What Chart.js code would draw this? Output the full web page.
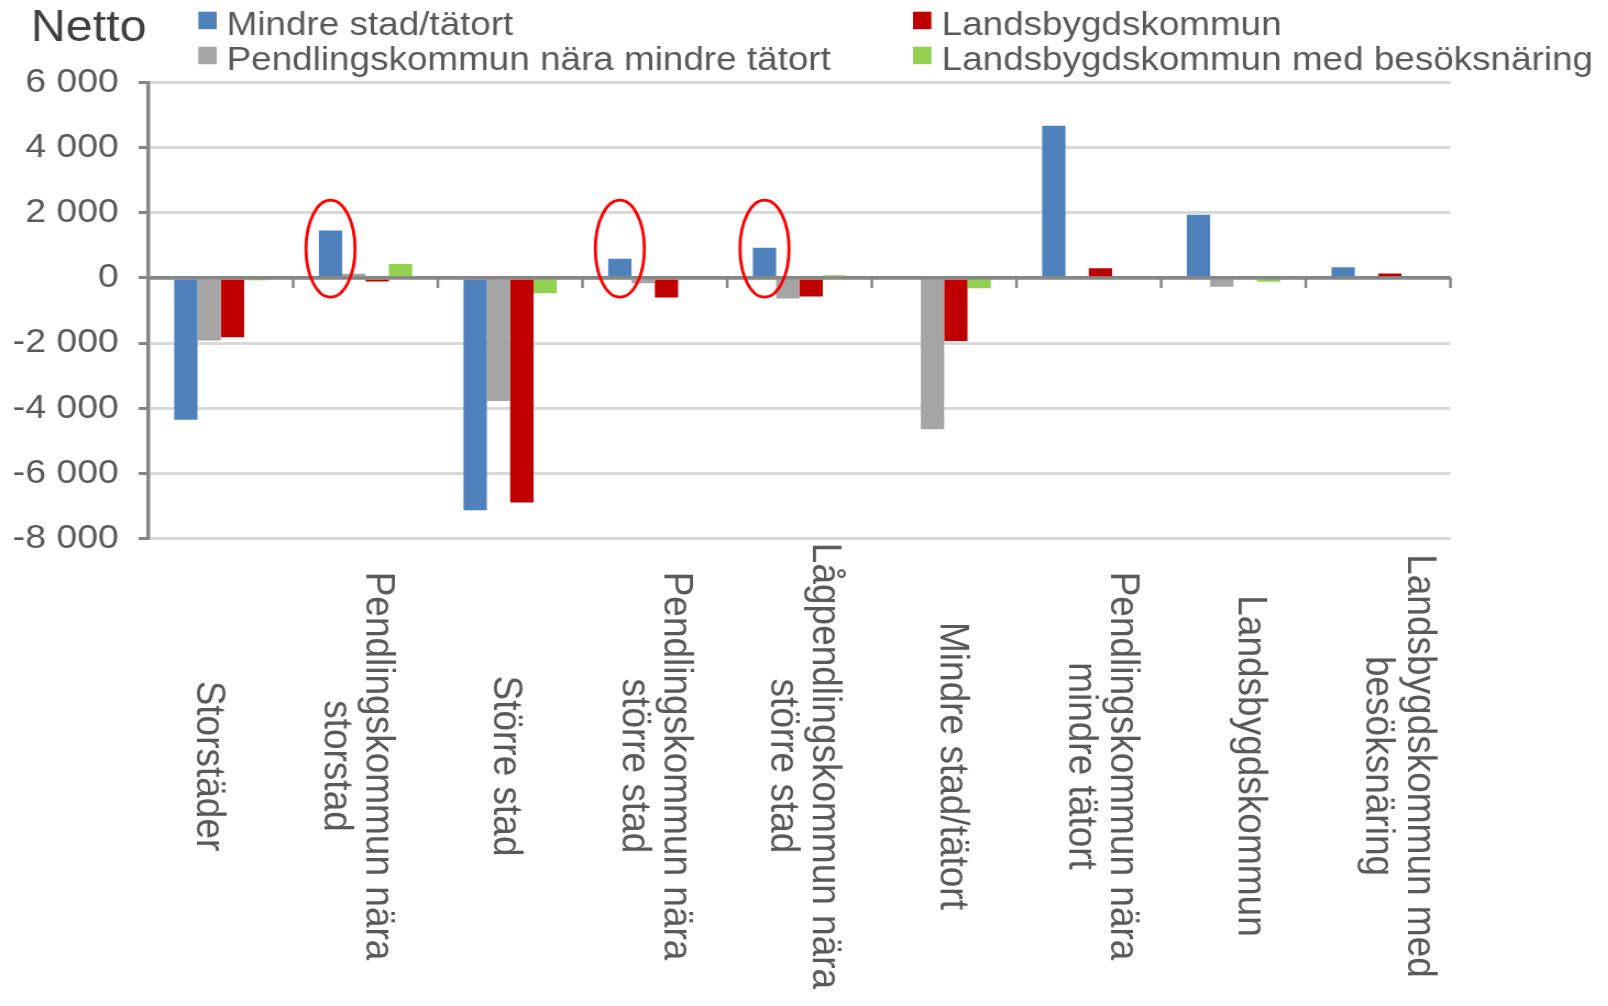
<!DOCTYPE html>
<html lang="sv">
<head>
<meta charset="utf-8">
<title>Netto</title>
<script src="https://cdn.jsdelivr.net/npm/chart.js@4.4.1/dist/chart.umd.min.js"></script>
<style>
  html, body { margin: 0; padding: 0; background: #fff; overflow: hidden; }
  #wrap { width: 1608px; height: 1006px; overflow: hidden; }
  /* the original picture is a little wider than tall text would suggest */
  #chart { transform: scaleX(1.1); transform-origin: 0 0; }
</style>
</head>
<body>
<div id="wrap"><canvas id="chart" width="1462" height="1006"></canvas></div>
<script>
const categories = [
  ["Storstäder"],
  ["Pendlingskommun nära", "storstad"],
  ["Större stad"],
  ["Pendlingskommun nära", "större stad"],
  ["Lågpendlingskommun nära", "större stad"],
  ["Mindre stad/tätort"],
  ["Pendlingskommun nära", "mindre tätort"],
  ["Landsbygdskommun"],
  ["Landsbygdskommun med", "besöksnäring"]
];

const seriesNames = [
  "Mindre stad/tätort",
  "Pendlingskommun nära mindre tätort",
  "Landsbygdskommun",
  "Landsbygdskommun med besöksnäring"
];
const seriesColors = ["#4f81bd", "#a5a5a5", "#c00000", "#92d050"];

const mindreStad     = [-4360, 1460, -7140,  590,  930,     0, 4680, 1940, 330];
const pendlingMindre = [-1920,  130, -3780, -160, -630, -4650,    0, -270,   0];
const landsbygd      = [-1820, -110, -6900, -600, -570, -1940,  300,    0, 140];
const landsbygdBesok = [  -70,  430,  -470,    0,   80,  -320,    0, -120,   0];

const yTicks = [-8000, -6000, -4000, -2000, 0, 2000, 4000, 6000];
const circledCategories = [1, 3, 4];   // red rings round the blue bars

const FONT = "'Liberation Sans', Arial, sans-serif";

function fmt(v) {
  return (v < 0 ? "-" : "") + String(Math.abs(v)).replace(/\B(?=(\d{3})+(?!\d))/g, " ");
}

const decorations = {
  id: "decorations",
  afterDatasetsDraw(chart) {
    const { ctx, chartArea, scales: { x, y } } = chart;
    const zero = y.getPixelForValue(0);
    const step = (x.right - x.left) / categories.length;

    ctx.save();
    // category axis at zero, with tick marks between groups
    ctx.strokeStyle = "#868686";
    ctx.lineWidth = 3.5;
    ctx.beginPath();
    ctx.moveTo(chartArea.left, zero);
    ctx.lineTo(chartArea.right, zero);
    ctx.stroke();
    ctx.lineWidth = 2.5;
    for (let i = 1; i <= categories.length; i++) {
      const px = x.left + step * i;
      ctx.beginPath();
      ctx.moveTo(px, zero);
      ctx.lineTo(px, zero + 10);
      ctx.stroke();
    }

    // red rings
    const bars = chart.getDatasetMeta(0).data;
    ctx.strokeStyle = "#ff0000";
    ctx.lineWidth = 2.8;
    circledCategories.forEach(i => {
      ctx.beginPath();
      ctx.ellipse(bars[i].x, y.getPixelForValue(900), 22.3, 48.5, 0, 0, Math.PI * 2);
      ctx.stroke();
    });
    ctx.restore();
  },
  afterDraw(chart) {
    const { ctx, scales: { x } } = chart;
    ctx.save();

    // rotated category labels (read top to bottom)
    ctx.fillStyle = "#595959";
    ctx.font = `37px ${FONT}`;
    ctx.textAlign = "center";
    ctx.textBaseline = "middle";
    categories.forEach((lines, i) => {
      const cx = x.getPixelForValue(i) + (i - 4) * 3.8 + 3.4;
      ctx.save();
      ctx.translate(cx, 766);
      ctx.rotate(Math.PI / 2);
      lines.forEach((line, j) => {
        ctx.fillText(line, 0, (j - (lines.length - 1) / 2) * 38);
      });
      ctx.restore();
    });

    // title
    ctx.textAlign = "left";
    ctx.textBaseline = "alphabetic";
    ctx.fillStyle = "#404040";
    ctx.font = `44px ${FONT}`;
    ctx.fillText("Netto", 28, 41);

    // legend, two columns
    const colBox = [180.3, 830];
    const colText = [206, 856];
    const rowBase = [35, 70];
    ctx.font = `33.5px ${FONT}`;
    chart.data.datasets.forEach((ds, i) => {
      const c = Math.floor(i / 2), r = i % 2;
      ctx.fillStyle = ds.backgroundColor;
      ctx.fillRect(colBox[c], rowBase[r] - 23.3, 16.7, 17.5);
      ctx.fillStyle = "#595959";
      ctx.fillText(ds.label, colText[c], rowBase[r]);
    });
    ctx.restore();
  }
};

const seriesValues = [mindreStad, pendlingMindre, landsbygd, landsbygdBesok];

new Chart(document.getElementById("chart"), {
  type: "bar",
  data: {
    labels: categories,
    datasets: seriesValues.map((vals, i) => ({
      label: seriesNames[i],
      data: vals,
      backgroundColor: seriesColors[i],
      borderWidth: 0,
      barPercentage: 1,
      categoryPercentage: 0.645
    }))
  },
  options: {
    responsive: false,
    animation: false,
    devicePixelRatio: 1,
    layout: { padding: { left: 0, right: 143.4, top: 82.7, bottom: 467.7 } },
    plugins: {
      legend: { display: false },
      tooltip: { enabled: false }
    },
    scales: {
      x: { display: false },
      y: {
        min: -8000,
        max: 6000,
        afterBuildTicks: scale => { scale.ticks = yTicks.map(v => ({ value: v })); },
        afterFit: scale => { scale.width = 135; },
        ticks: {
          color: "#595959",
          font: { family: FONT, size: 34 },
          padding: 18,
          callback: v => fmt(v)
        },
        grid: {
          color: c => (c.tick && c.tick.value === 0 ? "#868686" : "#d9d9d9"),
          lineWidth: 3,
          tickColor: "#868686",
          tickLength: 9,
          tickWidth: 3
        },
        border: { color: "#868686", width: 3.5 }
      }
    }
  },
  plugins: [decorations]
});
</script>
</body>
</html>
